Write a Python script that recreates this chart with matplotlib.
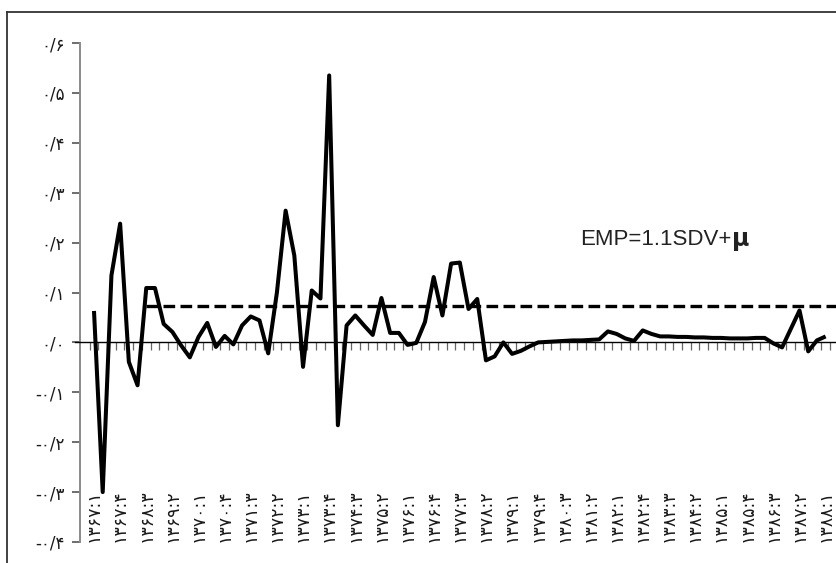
import matplotlib
matplotlib.use('Agg')
import matplotlib.pyplot as plt
from matplotlib.lines import Line2D
import numpy as np

# ---- data (quarterly, 1367:1 .. 1388:1) ----
values = [0.063, -0.300, 0.134, 0.238, -0.039, -0.086, 0.109, 0.109, 0.037, 0.021,
          -0.006, -0.030, 0.011, 0.039, -0.009, 0.013, -0.004, 0.034, 0.052, 0.044,
          -0.022, 0.100, 0.264, 0.174, -0.049, 0.104, 0.088, 0.535, -0.166, 0.034,
          0.054, 0.034, 0.015, 0.089, 0.019, 0.019, -0.005, -0.001, 0.041, 0.131,
          0.054, 0.158, 0.160, 0.067, 0.087, -0.036, -0.028, 0.000, -0.023, -0.017,
          -0.008, 0.000, 0.001, 0.002, 0.003, 0.004, 0.004, 0.005, 0.006, 0.022,
          0.017, 0.008, 0.003, 0.024, 0.017, 0.012, 0.012, 0.011, 0.011, 0.010,
          0.010, 0.009, 0.009, 0.008, 0.008, 0.008, 0.009, 0.009, -0.002, -0.010,
          0.027, 0.064, -0.018, 0.004, 0.012]

threshold_value = 0.072     # EMP threshold (dashed)
threshold_start = 6

x_labels = ['۱۳۶۷:۱', '۱۳۶۷:۴', '۱۳۶۸:۳', '۱۳۶۹:۲', '۱۳۷۰:۱', '۱۳۷۰:۴', '۱۳۷۱:۳',
            '۱۳۷۲:۲', '۱۳۷۳:۱', '۱۳۷۳:۴', '۱۳۷۴:۳', '۱۳۷۵:۲', '۱۳۷۶:۱', '۱۳۷۶:۴',
            '۱۳۷۷:۳', '۱۳۷۸:۲', '۱۳۷۹:۱', '۱۳۷۹:۴', '۱۳۸۰:۳', '۱۳۸۱:۲', '۱۳۸۲:۱',
            '۱۳۸۲:۴', '۱۳۸۳:۳', '۱۳۸۴:۲', '۱۳۸۵:۱', '۱۳۸۵:۴', '۱۳۸۶:۳', '۱۳۸۷:۲',
            '۱۳۸۸:۱']
label_every = 3

y_ticks = [-0.4, -0.3, -0.2, -0.1, 0.0, 0.1, 0.2, 0.3, 0.4, 0.5, 0.6]
y_tick_labels = ['-۰/۴', '-۰/۳', '-۰/۲', '-۰/۱', '۰/۰', '۰/۱', '۰/۲', '۰/۳',
                 '۰/۴', '۰/۵', '۰/۶']

annotation_text = 'EMP=1.1SDV+'
annotation_symbol = 'μ'

# ---- layout ----
W, H = 837, 563
fig = plt.figure(figsize=(W / 100, H / 100), dpi=100)
fig.patch.set_facecolor('white')

ax_l, ax_r, ax_t, ax_b = 75, 837, 43, 542
ax = fig.add_axes([ax_l / W, (H - ax_b) / H, (ax_r - ax_l) / W, (ax_b - ax_t) / H])

n = len(values)
x = np.arange(n)
step = 8.71
x0 = 94
ax.set_xlim(-(x0 - ax_l) / step, (ax_r - x0) / step)
ax.set_ylim(-0.4, 0.6)

# main series
ax.plot(x, values, color='black', lw=2.9, solid_joinstyle='round',
        solid_capstyle='butt', zorder=4, clip_on=False)

# threshold dashed
ax.hlines(threshold_value, threshold_start, (ax_r - x0) / step, colors='black',
          linestyles=(0, (3.5, 1.6)), lw=2.4, zorder=3)

# spines
for s in ['top', 'right']:
    ax.spines[s].set_visible(False)
ax.spines['bottom'].set_position(('data', 0))
ax.spines['bottom'].set_color('black')
ax.spines['bottom'].set_linewidth(1.0)
ax.spines['left'].set_position(('data', -(x0 - 80) / step))
ax.spines['left'].set_color('#8a8a8a')
ax.spines['left'].set_linewidth(1.4)

ax.set_xticks(np.arange(-0.5, n, 1.0))
ax.tick_params(axis='x', direction='out', length=6, width=0.9, color='#666666',
               labelbottom=False)
ax.set_yticks(y_ticks)
ax.set_yticklabels(y_tick_labels, family=['DejaVu Sans'])
ax.tick_params(axis='y', direction='out', length=6, width=1.2, color='#555555',
               labelsize=12, pad=5, labelcolor='#1a1a1a')

# category labels at the bottom
for k, lab in enumerate(x_labels):
    ax.text(k * label_every, -0.4, lab, rotation=90, ha='center', va='bottom',
            fontsize=12.5, family=['DejaVu Sans'], color='#1a1a1a')

# annotation
t = ax.text((580 - x0) / step, 0.207, annotation_text, ha='left', va='center',
            fontsize=16, family=['Liberation Sans', 'DejaVu Sans'], color='#222222')
fig.canvas.draw()
bb = t.get_window_extent()
xr = ax.transData.inverted().transform((bb.x1, bb.y0))[0]
ax.text(xr + 0.1, 0.207, annotation_symbol, ha='left', va='center', fontsize=17,
        fontweight='bold', family=['DejaVu Sans'], color='#222222')

# outer frame (left and top visible)
fig.add_artist(Line2D([7.5 / W, 7.5 / W], [0, (H - 11.5) / H], color='#333333', lw=1.3))
fig.add_artist(Line2D([7.5 / W, 1], [(H - 11.5) / H, (H - 11.5) / H], color='#333333', lw=1.3))

fig.savefig('out.png', dpi=100, facecolor='white')
